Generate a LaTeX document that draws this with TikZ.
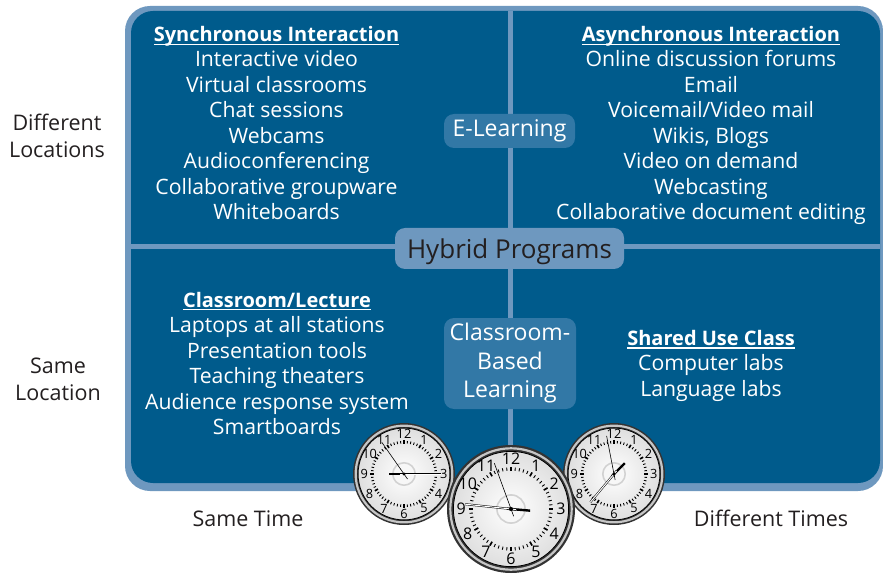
\documentclass[tikz,border=0pt]{standalone}
\usepackage{fontspec}
\setmainfont{Open Sans}
\usetikzlibrary{positioning}

\definecolor{deepblue}{RGB}{0,91,140}
\definecolor{paleblue}{RGB}{110,152,191}
\definecolor{midblue}{RGB}{50,120,166}
\definecolor{ink}{RGB}{35,31,32}

% underlined heading, rule set just below the baseline
\newcommand{\hdr}[1]{\setbox0\hbox{#1}\rlap{\rule[-3.5pt]{\wd0}{1.3pt}}\box0}

% wall clock: centre, scale, hour / minute / second hand angles
\newcommand{\wallclock}[5]{%
\begin{scope}[shift={(#1)}, y=1pt, scale=#2, transform shape]
  \fill[black!80] (0,0) circle (50);
  \draw[gray!45, line width=2.2pt] (0,0) circle (47.4);
  \shade[inner color=white, outer color=gray!25, draw=black, line width=0.8pt] (0,0) circle (45);
  \draw[gray!35, line width=1.6pt, fill=gray!6] (0,0) circle (11);
  \foreach \a in {0,6,...,354} \draw[line width=0.9pt] (\a:30) -- (\a:32.5);
  \foreach \a in {0,30,...,330} \draw[line width=1.6pt] (\a:29.5) -- (\a:33);
  \foreach \n in {1,...,12}
    \node[font=\fontsize{12.5}{12.5}\selectfont, inner sep=0pt] at ({90-30*\n}:39) {\n};
  \draw[line width=2.4pt] (#3+180:3) -- (#3:15);
  \draw[line width=0.5pt, double=white, double distance=1pt] (#4+180:4) -- (#4:36);
  \draw[line width=0.6pt] (#5+180:6) -- (#5:38);
  \fill (0,0) circle (1.6);
\end{scope}}

\tikzset{
  item/.style={text=white, font=\fontsize{21.2}{21.2}\selectfont, anchor=base, inner sep=0pt},
  head/.style={item, font=\fontsize{20}{20}\selectfont\bfseries},
  tag/.style={fill=midblue, text=white, rounded corners=10pt, align=center,
    inner sep=0pt, font=\fontsize{23}{28.5}\selectfont},
  side/.style={text=ink, font=\fontsize{21.5}{21.5}\selectfont, anchor=base, inner sep=0pt}
}

\begin{document}
\begin{tikzpicture}[x=1pt, y=-1pt]
\useasboundingbox (0,0) rectangle (883,577);

% frame and quadrant dividers
\fill[paleblue, rounded corners=25pt] (125,6) rectangle (883,491);
\fill[deepblue, rounded corners=22pt] (131,11) rectangle (880,483);
\fill[paleblue] (507.5,11) rectangle (512.5,483);
\fill[paleblue] (131,244.5) rectangle (880,249.5);

% different locations, same time
\node[head] (sync) at (276.5,41.5) {\hdr{Synchronous Interaction}};
\foreach \t [count=\i] in {Interactive video, Virtual classrooms, Chat sessions,
    Webcams, Audioconferencing, Collaborative groupware, Whiteboards}
  \node[item] (sync-\i) at (276.5,41.5+25.5*\i) {\t};

% different locations, different times
\node[head] (async) at (711,41.5) {\hdr{Asynchronous Interaction}};
\foreach \t [count=\i] in {Online discussion forums, Email, Voicemail/Video mail,
    {Wikis, Blogs}, Video on demand, Webcasting, Collaborative document editing}
  \node[item] (async-\i) at (711,41.5+25.5*\i) {\t};

% same location, same time
\node[head] (lect) at (277,307) {\hdr{Classroom/Lecture}};
\foreach \t [count=\i] in {Laptops at all stations, Presentation tools,
    Teaching theaters, Audience response system, Smartboards}
  \node[item] (lect-\i) at (277,307+25.5*\i) {\t};

% same location, different times
\node[head] (shared) at (711,345) {\hdr{Shared Use Class}};
\foreach \t [count=\i] in {Computer labs, Language labs}
  \node[item] (shared-\i) at (711,345+25.5*\i) {\t};

% programme types
\node[tag, minimum width=131pt, minimum height=34pt] (elearn) at (509.5,131) {E-Learning};
\node[tag, fill=paleblue, text=ink, font=\fontsize{26}{26}\selectfont, text depth=0pt,
  minimum width=229pt, minimum height=41pt] (hybrid) at (509.5,248.5) {Hybrid Programs};
\node[tag, minimum width=132pt, minimum height=91pt] (room) at (510,363.5)
  {Classroom-\\Based\\Learning};

% axis labels
\node[side] (diff) at (57,131) {Different};
\node[side] (diff-b) at (57,158) {Locations};
\node[side] (same) at (58,373) {Same};
\node[side] (same-b) at (58,400) {Location};
\node[side] (now) at (248,526) {Same Time};
\node[side] (later) at (771,526) {Different Times};

% clocks
\wallclock{404,474}{1.02}{180}{0}{125}
\wallclock{614,474}{1.02}{45}{230}{101}
\wallclock{511,509}{1.28}{-5}{174}{110}
\end{tikzpicture}
\end{document}
